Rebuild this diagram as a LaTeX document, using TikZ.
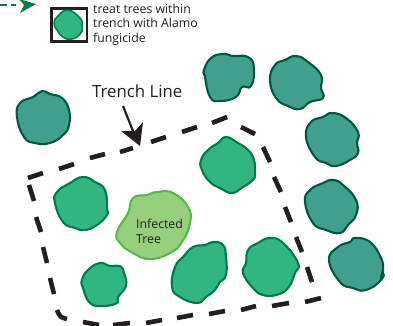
\documentclass[tikz,border=0pt]{standalone}
\usepackage{fontspec}
\setmainfont{Open Sans}
\definecolor{txt}{HTML}{231F20}
\definecolor{lf}{HTML}{31B682}
\definecolor{ls}{HTML}{007A4D}
\definecolor{df}{HTML}{41A08D}
\definecolor{ds}{HTML}{00573F}
\definecolor{inf}{HTML}{96CF7E}
\definecolor{ins}{HTML}{58B947}
\definecolor{arr}{HTML}{0A7D44}
\tikzset{
 treelight/.style={draw=ls,fill=lf,line width=2.1pt,line join=round},
 treedark/.style={draw=ds,fill=df,line width=2.1pt,line join=round},
 treeinf/.style={draw=ins,fill=inf,line width=2.1pt,line join=round},
 trench/.style={draw=txt,line width=4.6pt},
 lab/.style={text=txt,inner sep=0pt,anchor=base west,align=left}
}
\newcommand{\tree}[2]{\draw[#1] plot[smooth cycle,tension=0.8] coordinates {#2};}
\begin{document}
\begin{tikzpicture}[x=1pt,y=-1pt]
\useasboundingbox (0,0) rectangle (393,325);
% legend
\draw[arr,line width=1.8pt] (0,5) -- (7,5) (11,5) -- (16,5);
\fill[arr] (19,-1) -- (36,4) -- (20,13) -- (24,5) -- cycle;
\draw[txt,line width=2.6pt] (51.5,8.5) rectangle (87,41.5);
\tree{treelight,line width=1.5pt}{(68,10)(80,18)(82,25)(81,33)(72,39)(63,37)(57,30)(54,23)(58,16)}
\node[lab,font=\fontsize{12.3}{14}\selectfont] (t1) at (93,13) {treat trees within};
\node[lab,font=\fontsize{12.3}{14}\selectfont] (t2) at (93,27.5) {trench with Alamo};
\node[lab,font=\fontsize{12.3}{14}\selectfont] (t3) at (93,42) {fungicide};
% dark trees
\tree{treedark}{(42,91)(50,94)(62,98)(69,110)(69,125)(63,135)(50,143)(35,143)(24,137)(17,117)(20,103)(33,97)}
\tree{treedark}{(223,54)(233,56)(248,57)(254,68)(251,86)(242,87)(236,97)(220,101)(210,97)(205,77)(204,70)(211,58)}
\tree{treedark}{(296,56)(308,62)(321,75)(321,88)(323,98)(310,102)(300,109)(288,106)(276,98)(270,80)(275,65)(285,60)}
\tree{treedark}{(332,113)(346,118)(358,132)(357,143)(358,153)(350,160)(336,166)(326,163)(315,157)(306,137)(311,122)(323,117)}
\tree{treedark}{(333,180)(343,185)(356,200)(356,215)(348,225)(340,233)(326,230)(313,223)(305,202)(310,190)(323,183)}
\tree{treedark}{(355,238)(370,242)(381,258)(383,270)(381,280)(366,290)(353,288)(340,282)(329,260)(338,247)(350,242)}
\fill[ds] (382,269) -- (385,276) -- (379,282) -- cycle;
% light trees
\tree{treelight}{(83,177)(95,182)(105,190)(107,208)(107,215)(97,225)(85,230)(75,228)(63,222)(55,203)(57,192)(70,183)}
\tree{treelight}{(100,263)(110,266)(120,266)(124,273)(126,286)(118,297)(117,303)(103,306)(90,303)(83,288)(82,280)(88,270)}
\tree{treelight}{(205,245)(213,242)(223,245)(226,257)(226,275)(220,282)(215,290)(206,297)(197,303)(180,297)(172,287)(175,267)(183,257)(193,247)}
\tree{treelight}{(270,238)(283,243)(298,263)(295,273)(288,288)(276,295)(263,295)(253,288)(243,273)(246,263)(248,250)(258,243)}
\tree{treelight}{(226,137)(238,143)(248,150)(254,160)(255,173)(253,180)(243,187)(232,193)(220,188)(210,182)(202,170)(201,160)(208,150)(218,143)}
\tree{treeinf}{(157,192)(173,193)(188,207)(190,223)(182,242)(170,253)(150,259)(133,253)(120,243)(117,232)(128,213)(133,198)(147,195)}
\node[lab,font=\fontsize{12.3}{12}\selectfont] (inf1) at (136,228) {Infected};
\node[lab,font=\fontsize{12.3}{12}\selectfont] (inf2) at (136,243) {Tree};
% trench dashes
\draw[trench] (28,178)--(43,173) (59,169)--(74,164) (90,158)--(105,154) (120,152)--(133,148)
 (151,142)--(166,137) (182,132)--(197,127) (212,123)--(227,117) (241,127)--(255,134)
 (263,147)--(270,162) (274,177)--(281,192) (285,207)--(291,222) (296,237)--(302,252) (307,267)--(312,282)
 (321,298)--(305,302) (289,303)--(272,306) (256,306)--(241,310) (225,311)--(209,314)
 (193,315)--(177,318) (162,320)--(146,323) (130,323)--(113,325) (99,325)--(83,322)
 (67,319) .. controls (60,317) .. (57,310)
 (50,278)--(54,294) (43,247)--(47,263) (36,217)--(41,232) (29,185)--(34,201);
% trench label
\node[lab,font=\fontsize{16.8}{20}\selectfont] (tl) at (92,97) {Trench Line};
\coordinate (as) at (123,106);
\coordinate (ae) at (137,141);
\draw[txt,line width=2.2pt] (as) -- (ae);
\fill[txt] (140,146) -- (121,131) -- (135,131) -- (143,122) -- cycle;
\end{tikzpicture}
\end{document}
